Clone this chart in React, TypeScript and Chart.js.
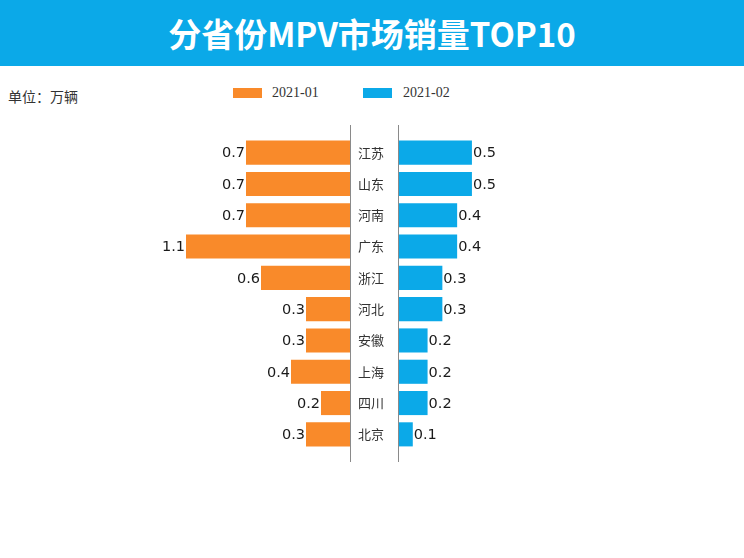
import React, { useEffect, useRef } from "react";
import { Chart, registerables } from "chart.js";
Chart.register(...registerables);

const titleText = "分省份MPV市场销量TOP10";
const unitLabel = "单位：万辆";
const provinces = ["江苏", "山东", "河南", "广东", "浙江", "河北", "安徽", "上海", "四川", "北京"];
const seriesNames = ["2021-01", "2021-02"];
const janValues = [0.7, 0.7, 0.7, 1.1, 0.6, 0.3, 0.3, 0.4, 0.2, 0.3];
const febValues = [0.5, 0.5, 0.4, 0.4, 0.3, 0.3, 0.2, 0.2, 0.2, 0.1];

const ORANGE = "#F98A2A";
const BLUE = "#0BA9E8";
const AXIS_MAX = 2.34;
const CANVAS_TOP = 125;
const CANVAS_H = 337;

const makeValueLabelPlugin = (side: "left" | "right") => ({
  id: "valueLabels_" + side,
  afterDatasetsDraw(chart: any) {
    const ctx = chart.ctx;
    const meta = chart.getDatasetMeta(0);
    const data = chart.data.datasets[0].data as number[];
    ctx.save();
    ctx.font = "14.5px 'DejaVu Sans'";
    ctx.fillStyle = "#1a1a1a";
    ctx.textBaseline = "middle";
    meta.data.forEach((el: any, i: number) => {
      const txt = data[i].toFixed(1);
      if (side === "left") {
        ctx.textAlign = "right";
        ctx.fillText(txt, el.x - 1, el.y + 1);
      } else {
        ctx.textAlign = "left";
        ctx.fillText(txt, el.x + 1, el.y + 1);
      }
    });
    ctx.restore();
  },
});

const makeLinePlugin = (side: "left" | "right") => ({
  id: "axisLine_" + side,
  afterDraw(chart: any) {
    const ctx = chart.ctx;
    const x = side === "left" ? chart.chartArea.right - 0.5 : chart.chartArea.left + 0.5;
    ctx.save();
    ctx.strokeStyle = "#8a8a8a";
    ctx.lineWidth = 1;
    ctx.beginPath();
    ctx.moveTo(x, 0);
    ctx.lineTo(x, chart.height);
    ctx.stroke();
    ctx.restore();
  },
});

export default function App() {
  const leftRef = useRef<HTMLCanvasElement | null>(null);
  const rightRef = useRef<HTMLCanvasElement | null>(null);

  useEffect(() => {
    const left = new Chart(leftRef.current as HTMLCanvasElement, {
      type: "bar",
      data: {
        labels: provinces,
        datasets: [
          {
            label: seriesNames[0],
            data: janValues,
            backgroundColor: ORANGE,
            categoryPercentage: 1,
            barPercentage: 0.77,
          },
        ],
      },
      options: {
        indexAxis: "y",
        responsive: false,
        animation: false,
        layout: { padding: { top: 12, bottom: 12, left: 0, right: 0 } },
        plugins: { legend: { display: false }, tooltip: { enabled: false }, title: { display: false } },
        scales: {
          x: { display: false, reverse: true, min: 0, max: AXIS_MAX },
          y: { display: false, offset: true },
        },
      },
      plugins: [makeValueLabelPlugin("left"), makeLinePlugin("left")],
    } as any);

    const right = new Chart(rightRef.current as HTMLCanvasElement, {
      type: "bar",
      data: {
        labels: provinces,
        datasets: [
          {
            label: seriesNames[1],
            data: febValues,
            backgroundColor: BLUE,
            categoryPercentage: 1,
            barPercentage: 0.77,
          },
        ],
      },
      options: {
        indexAxis: "y",
        responsive: false,
        animation: false,
        layout: { padding: { top: 12, bottom: 12, left: 0, right: 0 } },
        plugins: { legend: { display: false }, tooltip: { enabled: false }, title: { display: false } },
        scales: {
          x: { display: false, min: 0, max: AXIS_MAX },
          y: {
            display: true,
            position: "left",
            offset: true,
            grid: { display: false, drawTicks: false },
            border: { display: false },
            ticks: {
              crossAlign: "center",
              padding: 14,
              color: "#333333",
              font: { family: "'Noto Sans CJK SC'", size: 13 },
            },
            afterFit(scale: any) {
              scale.width = 47;
              scale.paddingTop = 0;
              scale.paddingBottom = 0;
            },
          },
        },
      },
      plugins: [makeValueLabelPlugin("right"), makeLinePlugin("right")],
    } as any);

    return () => {
      left.destroy();
      right.destroy();
    };
  }, []);

  const cjk = "'Noto Sans CJK SC', 'Noto Sans', sans-serif";

  return (
    <div
      style={{
        position: "absolute",
        left: 0,
        top: 0,
        width: 744,
        height: 558,
        overflow: "hidden",
        background: "#ffffff",
      }}
    >
      <div
        style={{
          position: "absolute",
          left: 0,
          top: 0,
          width: 744,
          height: 66,
          background: BLUE,
          color: "#ffffff",
          fontFamily: cjk,
          fontWeight: 700,
          fontSize: 33,
          lineHeight: "66px",
          textAlign: "center",
        }}
      >
        {titleText}
      </div>
      <div
        style={{
          position: "absolute",
          left: 8,
          top: 86,
          fontFamily: cjk,
          fontSize: 14,
          lineHeight: "20px",
          color: "#333333",
        }}
      >
        {unitLabel}
      </div>
      <div style={{ position: "absolute", left: 233, top: 88, width: 29, height: 10, background: ORANGE }} />
      <div
        style={{
          position: "absolute",
          left: 272,
          top: 84,
          fontFamily: "'Liberation Serif', serif",
          fontSize: 14,
          lineHeight: "18px",
          color: "#333333",
        }}
      >
        {seriesNames[0]}
      </div>
      <div style={{ position: "absolute", left: 363, top: 88, width: 29, height: 10, background: BLUE }} />
      <div
        style={{
          position: "absolute",
          left: 403,
          top: 84,
          fontFamily: "'Liberation Serif', serif",
          fontSize: 14,
          lineHeight: "18px",
          color: "#333333",
        }}
      >
        {seriesNames[1]}
      </div>
      <canvas
        ref={leftRef}
        width={351}
        height={CANVAS_H}
        style={{ position: "absolute", left: 0, top: CANVAS_TOP, width: 351, height: CANVAS_H }}
      />
      <canvas
        ref={rightRef}
        width={393}
        height={CANVAS_H}
        style={{ position: "absolute", left: 351, top: CANVAS_TOP, width: 393, height: CANVAS_H }}
      />
    </div>
  );
}
